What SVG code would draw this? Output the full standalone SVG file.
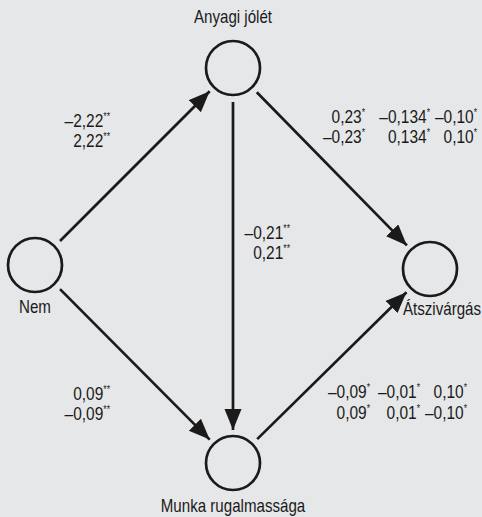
<svg xmlns="http://www.w3.org/2000/svg" width="482" height="517" viewBox="0 0 482 517">
<defs>
<marker id="ah" markerUnits="userSpaceOnUse" markerWidth="24" markerHeight="18" refX="21" refY="8.5" orient="auto">
<path d="M0,0 L21,8.5 L0,17 Z" fill="#1a1a1a"/>
</marker>
<style>
.bg{fill:#e6e7e8}
.node{fill:none;stroke:#1a1a1a;stroke-width:2.7}
.edge{stroke:#1a1a1a;stroke-width:2.7;fill:none;marker-end:url(#ah)}
text{font-family:"Liberation Sans",Arial,sans-serif;font-size:18px;fill:#1a1a1a}
.sup{font-size:10px}
</style>
</defs>
<rect class="bg" x="0" y="0" width="482" height="517"/>
<g id="connectors">
<line class="edge" x1="60" y1="241" x2="209.7" y2="91.3"/>
<line class="edge" x1="256.8" y1="92.3" x2="406.9" y2="245.4"/>
<line class="edge" x1="233" y1="102" x2="233" y2="430"/>
<line class="edge" x1="60" y1="289.1" x2="209.7" y2="439.6"/>
<line class="edge" x1="257.2" y1="439.1" x2="406.5" y2="292.2"/>
</g>
<g id="node-anyagi">
<circle class="node" cx="233" cy="68" r="27"/>
<text transform="translate(233,23) scale(0.84,1)" text-anchor="middle">Anyagi jólét</text>
</g>
<g id="node-nem">
<circle class="node" cx="35" cy="265" r="27"/>
<text transform="translate(35,313) scale(0.84,1)" text-anchor="middle">Nem</text>
</g>
<g id="node-atszivargas">
<circle class="node" cx="430" cy="269" r="27"/>
<text transform="translate(442,315) scale(0.84,1)" text-anchor="middle">Átszivárgás</text>
</g>
<g id="node-munka">
<circle class="node" cx="233" cy="463" r="27"/>
<text transform="translate(233,512) scale(0.84,1)" text-anchor="middle">Munka rugalmassága</text>
</g>
<g id="labels">
<text transform="translate(110,127) scale(0.86,1)" text-anchor="end">–2,22<tspan class="sup" dy="-7">**</tspan></text>
<text transform="translate(110,147) scale(0.86,1)" text-anchor="end">2,22<tspan class="sup" dy="-7">**</tspan></text>
<text transform="translate(110,400) scale(0.86,1)" text-anchor="end">0,09<tspan class="sup" dy="-7">**</tspan></text>
<text transform="translate(110,420) scale(0.86,1)" text-anchor="end">–0,09<tspan class="sup" dy="-7">**</tspan></text>
<text transform="translate(290,239) scale(0.86,1)" text-anchor="end">–0,21<tspan class="sup" dy="-7">**</tspan></text>
<text transform="translate(290,259) scale(0.86,1)" text-anchor="end">0,21<tspan class="sup" dy="-7">**</tspan></text>
<text transform="translate(365,123) scale(0.86,1)" text-anchor="end">0,23<tspan class="sup" dy="-7">*</tspan></text>
<text transform="translate(430,123) scale(0.86,1)" text-anchor="end">–0,134<tspan class="sup" dy="-7">*</tspan></text>
<text transform="translate(477,123) scale(0.86,1)" text-anchor="end">–0,10<tspan class="sup" dy="-7">*</tspan></text>
<text transform="translate(365,143) scale(0.86,1)" text-anchor="end">–0,23<tspan class="sup" dy="-7">*</tspan></text>
<text transform="translate(430,143) scale(0.86,1)" text-anchor="end">0,134<tspan class="sup" dy="-7">*</tspan></text>
<text transform="translate(477,143) scale(0.86,1)" text-anchor="end">0,10<tspan class="sup" dy="-7">*</tspan></text>
<text transform="translate(370,398) scale(0.86,1)" text-anchor="end">–0,09<tspan class="sup" dy="-7">*</tspan></text>
<text transform="translate(420,398) scale(0.86,1)" text-anchor="end">–0,01<tspan class="sup" dy="-7">*</tspan></text>
<text transform="translate(467,398) scale(0.86,1)" text-anchor="end">0,10<tspan class="sup" dy="-7">*</tspan></text>
<text transform="translate(370,419) scale(0.86,1)" text-anchor="end">0,09<tspan class="sup" dy="-7">*</tspan></text>
<text transform="translate(420,419) scale(0.86,1)" text-anchor="end">0,01<tspan class="sup" dy="-7">*</tspan></text>
<text transform="translate(467,419) scale(0.86,1)" text-anchor="end">–0,10<tspan class="sup" dy="-7">*</tspan></text>
</g>
</svg>
